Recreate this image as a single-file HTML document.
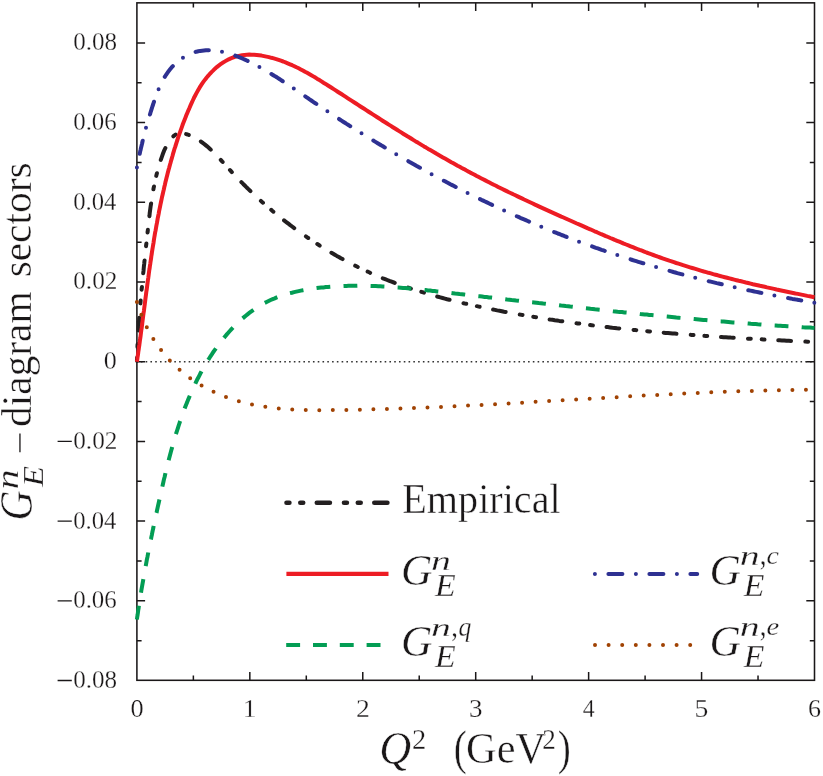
<!DOCTYPE html>
<html><head><meta charset="utf-8"><title>GEn diagram sectors</title>
<style>
html,body{margin:0;padding:0;background:#fff;}
body{width:823px;height:776px;position:relative;overflow:hidden;font-family:"Liberation Serif",serif;color:#1a1718;}
.t{position:absolute;left:0;top:0;font-size:40px;white-space:nowrap;line-height:1;transform-origin:0 0;}
.t{-webkit-text-stroke:0.4px #fff;}
.i{font-style:italic;}
</style></head><body>
<svg width="823" height="776" viewBox="0 0 823 776" style="position:absolute;left:0;top:0">
<line x1="140.86" y1="361.7" x2="814.5" y2="361.7" stroke="#333" stroke-width="1.6" stroke-dasharray="1.6 3.18"/>
<rect x="136.9" y="2.85" width="677.6" height="677.4499999999999" fill="none" stroke="#1a1718" stroke-width="1.55"/>
<path d="M193.37,680.3v-4.7 M193.37,2.85v4.7 M249.83,680.3v-8.2 M249.83,2.85v8.2 M306.30,680.3v-4.7 M306.30,2.85v4.7 M362.77,680.3v-8.2 M362.77,2.85v8.2 M419.23,680.3v-4.7 M419.23,2.85v4.7 M475.70,680.3v-8.2 M475.70,2.85v8.2 M532.17,680.3v-4.7 M532.17,2.85v4.7 M588.63,680.3v-8.2 M588.63,2.85v8.2 M645.10,680.3v-4.7 M645.10,2.85v4.7 M701.57,680.3v-8.2 M701.57,2.85v8.2 M758.03,680.3v-4.7 M758.03,2.85v4.7 M136.9,640.65h4.7 M814.5,640.65h-4.7 M136.9,600.80h8.2 M814.5,600.80h-8.2 M136.9,560.95h4.7 M814.5,560.95h-4.7 M136.9,521.10h8.2 M814.5,521.10h-8.2 M136.9,481.25h4.7 M814.5,481.25h-4.7 M136.9,441.40h8.2 M814.5,441.40h-8.2 M136.9,401.55h4.7 M814.5,401.55h-4.7 M136.9,361.70h8.2 M814.5,361.70h-8.2 M136.9,321.85h4.7 M814.5,321.85h-4.7 M136.9,282.00h8.2 M814.5,282.00h-8.2 M136.9,242.15h4.7 M814.5,242.15h-4.7 M136.9,202.30h8.2 M814.5,202.30h-8.2 M136.9,162.45h4.7 M814.5,162.45h-4.7 M136.9,122.60h8.2 M814.5,122.60h-8.2 M136.9,82.75h4.7 M814.5,82.75h-4.7 M136.9,42.90h8.2 M814.5,42.90h-8.2" stroke="#1a1718" stroke-width="1.5" fill="none"/>
<path d="M136.9,361.7 L137.0,359.4 L137.0,357.1 L137.1,354.8 L137.2,352.5 L137.3,350.2 L137.4,347.9 L137.5,345.5 L137.7,343.2 L137.8,340.9 L137.9,338.6 L138.0,336.3 L138.2,333.9 L138.3,331.6 L138.5,329.3 L138.6,327.0 L138.8,324.6 L138.9,322.3 L139.1,320.0 L139.3,317.6 L139.4,315.3 L139.6,313.0 L139.8,310.6 L140.0,308.3 L140.2,306.0 L140.4,303.6 L140.6,301.3 L140.8,299.0 L141.0,296.6 L141.2,294.3 L141.4,292.0 L141.6,289.6 L141.9,287.3 L142.1,285.0 L142.3,282.6 L142.5,280.3 L142.8,278.0 L143.0,275.6 L143.2,273.3 L143.5,271.0 L143.7,268.7 L143.9,266.3 L144.2,264.0 L144.4,261.7 L144.7,259.4 L144.9,257.0 L145.2,254.7 L145.4,252.4 L145.6,250.1 L145.9,247.8 L146.1,245.5 L146.4,243.2 L146.6,240.8 L146.9,238.5 L147.2,236.2 L147.4,233.9 L147.7,231.6 L147.9,229.3 L148.2,227.0 L148.4,224.8 L148.7,222.5 L148.9,220.2 L149.2,217.9 L149.5,215.6 L149.7,213.3 L150.0,211.0 L150.3,208.7 L150.6,206.5 L151.0,204.2 L151.3,201.9 L151.6,199.6 L152.0,197.3 L152.4,195.0 L152.8,192.8 L153.2,190.5 L153.6,188.2 L154.1,185.9 L154.5,183.6 L155.0,181.3 L155.5,179.0 L156.1,176.7 L156.6,174.4 L157.2,172.1 L157.8,169.8 L158.5,167.4 L159.1,165.1 L159.9,162.8 L160.6,160.5 L161.4,158.1 L162.2,155.8 L163.0,153.5 L163.9,151.2 L164.9,149.0 L165.9,146.9 L167.0,144.8 L168.2,142.7 L169.5,140.8 L170.9,139.0 L172.3,137.3 L173.9,135.8 L175.6,134.5 L177.4,133.6 L179.4,133.2 L181.4,133.1 L183.4,133.4 L185.5,133.9 L187.6,134.5 L189.7,135.3 L191.7,136.2 L193.7,137.1 L195.6,138.2 L197.6,139.3 L199.4,140.5 L201.3,141.8 L203.1,143.2 L205.0,144.6 L206.8,146.1 L208.5,147.6 L210.3,149.2 L212.0,150.9 L213.7,152.5 L215.4,154.3 L217.1,156.0 L218.8,157.8 L220.5,159.6 L222.1,161.4 L223.8,163.2 L225.4,165.0 L227.0,166.8 L228.7,168.6 L230.3,170.4 L231.9,172.2 L233.6,173.9 L235.2,175.7 L236.9,177.4 L238.5,179.1 L240.1,180.8 L241.8,182.5 L243.4,184.2 L245.1,185.8 L246.7,187.5 L248.4,189.1 L250.1,190.7 L251.7,192.3 L253.4,193.9 L255.1,195.5 L256.7,197.0 L258.4,198.6 L260.1,200.1 L261.8,201.7 L263.5,203.2 L265.3,204.7 L267.0,206.2 L268.7,207.7 L270.5,209.2 L272.2,210.7 L274.0,212.2 L275.8,213.7 L277.5,215.1 L279.3,216.6 L281.1,218.0 L282.9,219.4 L284.7,220.9 L286.6,222.3 L288.4,223.7 L290.2,225.1 L292.1,226.5 L293.9,227.9 L295.8,229.3 L297.7,230.6 L299.6,232.0 L301.5,233.3 L303.4,234.7 L305.3,236.0 L307.2,237.3 L309.1,238.6 L311.1,239.9 L313.0,241.2 L314.9,242.5 L316.9,243.8 L318.9,245.0 L320.8,246.3 L322.8,247.5 L324.8,248.7 L326.8,250.0 L328.8,251.2 L330.8,252.4 L332.8,253.5 L334.8,254.7 L336.8,255.9 L338.9,257.0 L340.9,258.2 L343.0,259.3 L345.0,260.4 L347.1,261.5 L349.1,262.6 L351.2,263.7 L353.3,264.7 L355.4,265.8 L357.4,266.8 L359.5,267.8 L361.6,268.9 L363.7,269.9 L365.8,270.8 L368.0,271.8 L370.1,272.8 L372.2,273.7 L374.3,274.7 L376.5,275.6 L378.6,276.5 L380.8,277.4 L382.9,278.3 L385.1,279.1 L387.2,280.0 L389.4,280.9 L391.6,281.7 L393.8,282.5 L395.9,283.3 L398.1,284.1 L400.3,284.9 L402.5,285.7 L404.7,286.5 L406.9,287.2 L409.1,288.0 L411.3,288.7 L413.5,289.4 L415.7,290.1 L417.9,290.8 L420.2,291.5 L422.4,292.2 L424.6,292.9 L426.9,293.6 L429.1,294.2 L431.3,294.9 L433.6,295.5 L435.8,296.1 L438.1,296.8 L440.3,297.4 L442.6,298.0 L444.8,298.6 L447.1,299.2 L449.3,299.7 L451.6,300.3 L453.9,300.9 L456.1,301.4 L458.4,302.0 L460.7,302.5 L462.9,303.1 L465.2,303.6 L467.5,304.1 L469.8,304.6 L472.1,305.1 L474.3,305.6 L476.6,306.1 L478.9,306.6 L481.2,307.1 L483.5,307.6 L485.8,308.1 L488.0,308.5 L490.3,309.0 L492.6,309.5 L494.9,309.9 L497.2,310.4 L499.5,310.8 L501.8,311.2 L504.1,311.7 L506.4,312.1 L508.7,312.5 L511.0,313.0 L513.3,313.4 L515.6,313.8 L517.9,314.2 L520.2,314.6 L522.5,315.0 L524.8,315.4 L527.1,315.8 L529.4,316.2 L531.6,316.6 L533.9,316.9 L536.2,317.3 L538.5,317.7 L540.9,318.1 L543.2,318.4 L545.5,318.8 L547.8,319.1 L550.1,319.5 L552.4,319.8 L554.7,320.2 L557.0,320.5 L559.3,320.9 L561.6,321.2 L563.9,321.5 L566.2,321.8 L568.5,322.2 L570.8,322.5 L573.1,322.8 L575.4,323.1 L577.7,323.4 L580.0,323.7 L582.3,324.0 L584.6,324.3 L587.0,324.6 L589.3,324.9 L591.6,325.2 L593.9,325.5 L596.2,325.8 L598.5,326.1 L600.8,326.3 L603.1,326.6 L605.4,326.9 L607.7,327.1 L610.1,327.4 L612.4,327.7 L614.7,327.9 L617.0,328.2 L619.3,328.4 L621.6,328.7 L623.9,328.9 L626.3,329.2 L628.6,329.4 L630.9,329.6 L633.2,329.9 L635.5,330.1 L637.8,330.3 L640.2,330.6 L642.5,330.8 L644.8,331.0 L647.1,331.2 L649.4,331.4 L651.7,331.7 L654.1,331.9 L656.4,332.1 L658.7,332.3 L661.0,332.5 L663.3,332.7 L665.7,332.9 L668.0,333.1 L670.3,333.3 L672.6,333.5 L674.9,333.6 L677.3,333.8 L679.6,334.0 L681.9,334.2 L684.2,334.4 L686.5,334.6 L688.9,334.7 L691.2,334.9 L693.5,335.1 L695.8,335.3 L698.2,335.4 L700.5,335.6 L702.8,335.8 L705.1,335.9 L707.4,336.1 L709.8,336.2 L712.1,336.4 L714.4,336.6 L716.7,336.7 L719.1,336.9 L721.4,337.0 L723.7,337.2 L726.0,337.3 L728.4,337.4 L730.7,337.6 L733.0,337.7 L735.3,337.9 L737.7,338.0 L740.0,338.2 L742.3,338.3 L744.7,338.4 L747.0,338.6 L749.3,338.7 L751.6,338.8 L754.0,339.0 L756.3,339.1 L758.6,339.2 L760.9,339.3 L763.3,339.5 L765.6,339.6 L767.9,339.7 L770.3,339.8 L772.6,340.0 L774.9,340.1 L777.2,340.2 L779.6,340.3 L781.9,340.4 L784.2,340.5 L786.5,340.7 L788.9,340.8 L791.2,340.9 L793.5,341.0 L795.9,341.1 L798.2,341.2 L800.5,341.3 L802.9,341.5 L805.2,341.6 L807.5,341.7 L809.8,341.8 L812.2,341.9 L814.5,342.0" fill="none" stroke="#231f20" stroke-width="4.0" stroke-linecap="round" stroke-linejoin="round" stroke-dasharray="12.816 14.318 2.803 10.913 2.803 13.767" stroke-dashoffset="26.10"/>
<path d="M136.9,361.7 L137.3,359.2 L137.6,356.8 L138.0,354.4 L138.3,351.9 L138.7,349.5 L139.0,347.1 L139.4,344.6 L139.7,342.2 L140.0,339.8 L140.4,337.4 L140.7,335.0 L141.0,332.6 L141.3,330.2 L141.7,327.8 L142.0,325.4 L142.3,323.0 L142.6,320.6 L142.9,318.2 L143.2,315.8 L143.5,313.4 L143.9,311.0 L144.2,308.6 L144.5,306.3 L144.8,303.9 L145.1,301.5 L145.4,299.1 L145.7,296.8 L146.0,294.4 L146.3,292.0 L146.7,289.7 L147.0,287.3 L147.3,284.9 L147.6,282.6 L147.9,280.2 L148.3,277.8 L148.6,275.5 L148.9,273.1 L149.2,270.7 L149.6,268.4 L149.9,266.0 L150.3,263.6 L150.6,261.3 L151.0,258.9 L151.3,256.5 L151.7,254.2 L152.0,251.8 L152.4,249.4 L152.8,247.0 L153.2,244.7 L153.6,242.3 L153.9,239.9 L154.3,237.5 L154.7,235.1 L155.1,232.7 L155.6,230.4 L156.0,228.0 L156.4,225.6 L156.9,223.2 L157.3,220.8 L157.7,218.4 L158.2,216.0 L158.7,213.6 L159.1,211.2 L159.6,208.8 L160.1,206.3 L160.6,203.9 L161.1,201.5 L161.6,199.1 L162.1,196.7 L162.7,194.3 L163.2,191.9 L163.8,189.5 L164.3,187.1 L164.9,184.7 L165.4,182.3 L166.0,179.9 L166.6,177.6 L167.2,175.2 L167.8,172.8 L168.4,170.4 L169.1,168.0 L169.7,165.7 L170.4,163.3 L171.0,161.0 L171.7,158.6 L172.4,156.2 L173.0,153.9 L173.7,151.6 L174.4,149.2 L175.2,146.9 L175.9,144.6 L176.6,142.3 L177.4,140.0 L178.1,137.7 L178.9,135.4 L179.7,133.1 L180.5,130.8 L181.3,128.6 L182.1,126.3 L182.9,124.0 L183.8,121.8 L184.7,119.6 L185.5,117.4 L186.4,115.1 L187.3,112.9 L188.2,110.8 L189.2,108.6 L190.1,106.4 L191.1,104.2 L192.0,102.1 L193.0,100.0 L194.0,97.8 L195.1,95.7 L196.2,93.6 L197.3,91.6 L198.5,89.5 L199.7,87.4 L201.0,85.4 L202.3,83.4 L203.7,81.4 L205.2,79.4 L206.7,77.5 L208.3,75.7 L209.9,73.8 L211.5,72.1 L213.3,70.4 L215.0,68.7 L216.8,67.1 L218.7,65.6 L220.6,64.2 L222.6,62.8 L224.6,61.6 L226.6,60.4 L228.7,59.3 L230.8,58.4 L233.0,57.5 L235.2,56.7 L237.5,56.1 L239.8,55.6 L242.1,55.2 L244.5,54.9 L246.9,54.7 L249.3,54.6 L251.7,54.7 L254.2,54.8 L256.7,55.0 L259.1,55.3 L261.6,55.6 L264.1,56.1 L266.5,56.6 L269.0,57.1 L271.4,57.8 L273.8,58.4 L276.2,59.1 L278.6,59.9 L280.9,60.7 L283.2,61.5 L285.5,62.4 L287.7,63.3 L290.0,64.3 L292.2,65.2 L294.4,66.2 L296.5,67.3 L298.7,68.3 L300.8,69.4 L302.9,70.5 L305.0,71.7 L307.1,72.8 L309.2,74.0 L311.3,75.2 L313.3,76.4 L315.4,77.6 L317.4,78.9 L319.5,80.1 L321.5,81.4 L323.5,82.7 L325.6,83.9 L327.6,85.2 L329.6,86.5 L331.6,87.8 L333.7,89.1 L335.7,90.4 L337.7,91.7 L339.7,93.0 L341.8,94.3 L343.8,95.6 L345.8,96.9 L347.9,98.3 L349.9,99.6 L351.9,100.9 L354.0,102.2 L356.0,103.5 L358.1,104.9 L360.1,106.2 L362.1,107.5 L364.2,108.8 L366.2,110.1 L368.3,111.5 L370.3,112.8 L372.4,114.1 L374.4,115.4 L376.5,116.7 L378.5,118.0 L380.6,119.4 L382.6,120.7 L384.7,122.0 L386.7,123.3 L388.8,124.6 L390.9,125.9 L392.9,127.2 L395.0,128.5 L397.0,129.8 L399.1,131.1 L401.2,132.4 L403.2,133.7 L405.3,135.0 L407.4,136.3 L409.5,137.5 L411.5,138.8 L413.6,140.1 L415.7,141.4 L417.8,142.6 L419.9,143.9 L421.9,145.1 L424.0,146.4 L426.1,147.6 L428.2,148.9 L430.3,150.1 L432.4,151.3 L434.5,152.5 L436.6,153.8 L438.7,155.0 L440.8,156.2 L442.9,157.4 L445.0,158.6 L447.1,159.8 L449.2,161.0 L451.3,162.2 L453.4,163.3 L455.5,164.5 L457.6,165.7 L459.7,166.8 L461.8,168.0 L464.0,169.1 L466.1,170.3 L468.2,171.4 L470.3,172.6 L472.5,173.7 L474.6,174.8 L476.7,176.0 L478.8,177.1 L481.0,178.2 L483.1,179.3 L485.3,180.4 L487.4,181.5 L489.5,182.6 L491.7,183.7 L493.8,184.8 L496.0,185.8 L498.1,186.9 L500.3,188.0 L502.4,189.0 L504.6,190.1 L506.7,191.1 L508.9,192.2 L511.1,193.2 L513.2,194.3 L515.4,195.3 L517.6,196.4 L519.7,197.4 L521.9,198.4 L524.1,199.5 L526.3,200.5 L528.4,201.5 L530.6,202.5 L532.8,203.5 L535.0,204.6 L537.2,205.6 L539.3,206.6 L541.5,207.6 L543.7,208.6 L545.9,209.6 L548.1,210.6 L550.3,211.6 L552.5,212.6 L554.7,213.6 L556.9,214.6 L559.1,215.6 L561.3,216.6 L563.5,217.5 L565.7,218.5 L567.9,219.5 L570.2,220.5 L572.4,221.5 L574.6,222.5 L576.8,223.5 L579.0,224.4 L581.3,225.4 L583.5,226.4 L585.7,227.4 L587.9,228.4 L590.2,229.3 L592.4,230.3 L594.6,231.3 L596.9,232.2 L599.1,233.2 L601.3,234.2 L603.6,235.1 L605.8,236.1 L608.1,237.0 L610.3,238.0 L612.6,238.9 L614.8,239.9 L617.1,240.8 L619.3,241.7 L621.6,242.6 L623.8,243.6 L626.1,244.5 L628.4,245.4 L630.6,246.3 L632.9,247.2 L635.1,248.1 L637.4,249.0 L639.7,249.9 L642.0,250.7 L644.2,251.6 L646.5,252.5 L648.8,253.3 L651.1,254.2 L653.3,255.0 L655.6,255.8 L657.9,256.7 L660.2,257.5 L662.5,258.3 L664.8,259.1 L667.0,259.9 L669.3,260.7 L671.6,261.4 L673.9,262.2 L676.2,263.0 L678.5,263.7 L680.8,264.4 L683.1,265.2 L685.4,265.9 L687.7,266.6 L690.0,267.3 L692.3,268.0 L694.6,268.7 L697.0,269.4 L699.3,270.1 L701.6,270.8 L703.9,271.5 L706.2,272.1 L708.5,272.8 L710.9,273.4 L713.2,274.1 L715.5,274.7 L717.8,275.3 L720.2,276.0 L722.5,276.6 L724.8,277.2 L727.1,277.8 L729.5,278.4 L731.8,279.0 L734.2,279.6 L736.5,280.2 L738.8,280.8 L741.2,281.3 L743.5,281.9 L745.9,282.5 L748.2,283.0 L750.6,283.6 L752.9,284.2 L755.3,284.7 L757.6,285.2 L760.0,285.8 L762.3,286.3 L764.7,286.8 L767.0,287.4 L769.4,287.9 L771.7,288.4 L774.1,288.9 L776.5,289.5 L778.8,290.0 L781.2,290.5 L783.6,291.0 L785.9,291.5 L788.3,292.0 L790.7,292.5 L793.1,293.0 L795.4,293.5 L797.8,293.9 L800.2,294.4 L802.6,294.9 L805.0,295.4 L807.3,295.9 L809.7,296.3 L812.1,296.8 L814.5,297.3" fill="none" stroke="#ed1c24" stroke-width="4" stroke-linejoin="round"/>
<path d="M136.9,619.5 L137.2,617.2 L137.6,614.9 L137.9,612.7 L138.2,610.4 L138.6,608.1 L138.9,605.8 L139.3,603.6 L139.6,601.3 L140.0,599.1 L140.3,596.8 L140.7,594.6 L141.1,592.3 L141.4,590.1 L141.8,587.8 L142.2,585.6 L142.6,583.4 L143.0,581.1 L143.4,578.9 L143.8,576.7 L144.2,574.5 L144.6,572.2 L145.0,570.0 L145.4,567.8 L145.8,565.6 L146.2,563.4 L146.6,561.2 L147.0,558.9 L147.5,556.7 L147.9,554.5 L148.3,552.3 L148.8,550.1 L149.2,547.9 L149.6,545.7 L150.1,543.5 L150.5,541.3 L151.0,539.1 L151.4,536.9 L151.9,534.7 L152.3,532.5 L152.8,530.2 L153.3,528.0 L153.7,525.8 L154.2,523.6 L154.7,521.4 L155.1,519.2 L155.6,517.0 L156.1,514.8 L156.6,512.6 L157.0,510.4 L157.5,508.2 L158.0,505.9 L158.5,503.7 L159.0,501.5 L159.5,499.3 L160.0,497.1 L160.5,494.8 L161.0,492.6 L161.5,490.4 L162.0,488.1 L162.5,485.9 L163.0,483.7 L163.5,481.5 L164.0,479.2 L164.6,477.0 L165.1,474.8 L165.6,472.5 L166.2,470.3 L166.7,468.1 L167.3,465.9 L167.8,463.6 L168.4,461.4 L168.9,459.2 L169.5,457.0 L170.1,454.7 L170.7,452.5 L171.3,450.3 L171.9,448.1 L172.5,445.9 L173.2,443.7 L173.8,441.5 L174.4,439.3 L175.1,437.1 L175.7,434.9 L176.4,432.7 L177.1,430.5 L177.8,428.3 L178.5,426.2 L179.2,424.0 L179.9,421.8 L180.7,419.7 L181.4,417.5 L182.2,415.3 L182.9,413.2 L183.7,411.1 L184.5,408.9 L185.3,406.8 L186.1,404.7 L187.0,402.6 L187.8,400.5 L188.7,398.4 L189.6,396.3 L190.5,394.2 L191.4,392.1 L192.3,390.0 L193.2,388.0 L194.2,385.9 L195.2,383.9 L196.1,381.9 L197.1,379.8 L198.2,377.8 L199.2,375.8 L200.2,373.8 L201.3,371.8 L202.4,369.8 L203.5,367.9 L204.6,365.9 L205.8,364.0 L206.9,362.0 L208.1,360.1 L209.3,358.2 L210.5,356.3 L211.8,354.4 L213.0,352.5 L214.3,350.6 L215.6,348.8 L216.9,346.9 L218.3,345.1 L219.6,343.3 L221.0,341.5 L222.4,339.7 L223.9,337.9 L225.3,336.2 L226.8,334.4 L228.3,332.7 L229.8,331.0 L231.3,329.4 L232.9,327.7 L234.4,326.1 L236.0,324.5 L237.7,322.9 L239.3,321.4 L241.0,319.8 L242.6,318.4 L244.4,316.9 L246.1,315.5 L247.8,314.1 L249.6,312.7 L251.4,311.4 L253.2,310.1 L255.1,308.8 L256.9,307.6 L258.8,306.4 L260.7,305.2 L262.7,304.1 L264.6,303.0 L266.6,302.0 L268.6,301.0 L270.6,300.0 L272.7,299.1 L274.7,298.3 L276.8,297.4 L278.9,296.6 L281.0,295.9 L283.2,295.2 L285.3,294.5 L287.5,293.8 L289.7,293.2 L291.9,292.7 L294.1,292.1 L296.3,291.6 L298.6,291.1 L300.8,290.6 L303.0,290.2 L305.3,289.8 L307.6,289.4 L309.8,289.1 L312.1,288.7 L314.4,288.4 L316.7,288.1 L318.9,287.8 L321.2,287.6 L323.5,287.4 L325.8,287.1 L328.0,286.9 L330.3,286.7 L332.6,286.6 L334.9,286.4 L337.2,286.3 L339.4,286.2 L341.7,286.1 L344.0,286.0 L346.3,285.9 L348.5,285.8 L350.8,285.8 L353.1,285.8 L355.3,285.8 L357.6,285.7 L359.9,285.8 L362.2,285.8 L364.4,285.8 L366.7,285.8 L369.0,285.9 L371.3,286.0 L373.5,286.0 L375.8,286.1 L378.1,286.2 L380.3,286.3 L382.6,286.5 L384.9,286.6 L387.1,286.7 L389.4,286.9 L391.7,287.0 L393.9,287.2 L396.2,287.4 L398.5,287.5 L400.8,287.7 L403.0,287.9 L405.3,288.1 L407.6,288.3 L409.8,288.5 L412.1,288.7 L414.4,289.0 L416.6,289.2 L418.9,289.4 L421.1,289.6 L423.4,289.9 L425.7,290.1 L427.9,290.4 L430.2,290.6 L432.5,290.9 L434.7,291.1 L437.0,291.4 L439.3,291.6 L441.5,291.9 L443.8,292.2 L446.1,292.4 L448.3,292.7 L450.6,292.9 L452.8,293.2 L455.1,293.5 L457.4,293.7 L459.6,294.0 L461.9,294.2 L464.1,294.5 L466.4,294.8 L468.7,295.0 L470.9,295.3 L473.2,295.6 L475.4,295.8 L477.7,296.1 L480.0,296.3 L482.2,296.6 L484.5,296.9 L486.7,297.1 L489.0,297.4 L491.3,297.6 L493.5,297.9 L495.8,298.2 L498.0,298.4 L500.3,298.7 L502.5,298.9 L504.8,299.2 L507.1,299.5 L509.3,299.7 L511.6,300.0 L513.8,300.2 L516.1,300.5 L518.4,300.7 L520.6,301.0 L522.9,301.3 L525.1,301.5 L527.4,301.8 L529.6,302.0 L531.9,302.3 L534.1,302.5 L536.4,302.8 L538.7,303.1 L540.9,303.3 L543.2,303.6 L545.4,303.8 L547.7,304.1 L549.9,304.3 L552.2,304.6 L554.5,304.8 L556.7,305.1 L559.0,305.3 L561.2,305.6 L563.5,305.8 L565.7,306.1 L568.0,306.3 L570.2,306.6 L572.5,306.8 L574.8,307.1 L577.0,307.3 L579.3,307.6 L581.5,307.8 L583.8,308.1 L586.0,308.3 L588.3,308.5 L590.5,308.8 L592.8,309.0 L595.0,309.3 L597.3,309.5 L599.6,309.8 L601.8,310.0 L604.1,310.2 L606.3,310.5 L608.6,310.7 L610.8,310.9 L613.1,311.2 L615.3,311.4 L617.6,311.7 L619.9,311.9 L622.1,312.1 L624.4,312.4 L626.6,312.6 L628.9,312.8 L631.1,313.0 L633.4,313.3 L635.7,313.5 L637.9,313.7 L640.2,314.0 L642.4,314.2 L644.7,314.4 L646.9,314.6 L649.2,314.9 L651.5,315.1 L653.7,315.3 L656.0,315.5 L658.2,315.7 L660.5,316.0 L662.7,316.2 L665.0,316.4 L667.3,316.6 L669.5,316.8 L671.8,317.0 L674.0,317.2 L676.3,317.5 L678.5,317.7 L680.8,317.9 L683.1,318.1 L685.3,318.3 L687.6,318.5 L689.8,318.7 L692.1,318.9 L694.4,319.1 L696.6,319.3 L698.9,319.5 L701.1,319.7 L703.4,319.9 L705.7,320.1 L707.9,320.3 L710.2,320.5 L712.4,320.7 L714.7,320.9 L717.0,321.1 L719.2,321.3 L721.5,321.4 L723.8,321.6 L726.0,321.8 L728.3,322.0 L730.5,322.2 L732.8,322.4 L735.1,322.5 L737.3,322.7 L739.6,322.9 L741.9,323.1 L744.1,323.2 L746.4,323.4 L748.7,323.6 L750.9,323.8 L753.2,323.9 L755.5,324.1 L757.7,324.3 L760.0,324.4 L762.3,324.6 L764.5,324.7 L766.8,324.9 L769.1,325.1 L771.3,325.2 L773.6,325.4 L775.9,325.5 L778.1,325.7 L780.4,325.8 L782.7,326.0 L785.0,326.1 L787.2,326.3 L789.5,326.4 L791.8,326.6 L794.0,326.7 L796.3,326.8 L798.6,327.0 L800.9,327.1 L803.1,327.3 L805.4,327.4 L807.7,327.5 L810.0,327.6 L812.2,327.8 L814.5,327.9" fill="none" stroke="#039d54" stroke-width="4" stroke-linejoin="round" stroke-dasharray="13.818 13.257"/>
<path d="M136.9,167.4 L137.3,165.4 L137.7,163.3 L138.1,161.3 L138.5,159.3 L138.9,157.3 L139.4,155.3 L139.8,153.3 L140.2,151.3 L140.7,149.4 L141.1,147.4 L141.6,145.4 L142.1,143.5 L142.5,141.5 L143.0,139.5 L143.5,137.6 L144.0,135.6 L144.5,133.7 L145.0,131.7 L145.5,129.8 L146.0,127.8 L146.6,125.9 L147.1,124.0 L147.7,122.0 L148.2,120.1 L148.8,118.1 L149.4,116.2 L150.0,114.3 L150.6,112.3 L151.2,110.4 L151.8,108.4 L152.4,106.5 L153.1,104.5 L153.7,102.6 L154.4,100.6 L155.1,98.7 L155.7,96.7 L156.5,94.8 L157.2,92.8 L158.0,90.9 L158.7,89.0 L159.6,87.1 L160.4,85.2 L161.3,83.3 L162.2,81.4 L163.2,79.6 L164.2,77.8 L165.3,76.0 L166.4,74.3 L167.6,72.6 L168.8,70.9 L170.1,69.3 L171.4,67.7 L172.8,66.2 L174.3,64.7 L175.8,63.3 L177.3,61.9 L178.9,60.6 L180.5,59.4 L182.2,58.2 L183.8,57.1 L185.6,56.1 L187.3,55.2 L189.1,54.3 L190.9,53.6 L192.7,52.9 L194.6,52.3 L196.4,51.7 L198.3,51.3 L200.2,50.9 L202.1,50.7 L204.0,50.5 L205.9,50.3 L207.8,50.3 L209.8,50.3 L211.7,50.3 L213.6,50.5 L215.6,50.7 L217.5,50.9 L219.5,51.2 L221.5,51.6 L223.4,52.0 L225.4,52.5 L227.3,53.0 L229.3,53.6 L231.3,54.2 L233.2,54.9 L235.2,55.6 L237.1,56.3 L239.1,57.1 L241.0,57.9 L242.9,58.7 L244.9,59.6 L246.8,60.5 L248.7,61.4 L250.6,62.4 L252.5,63.3 L254.4,64.3 L256.2,65.3 L258.1,66.3 L259.9,67.3 L261.8,68.3 L263.6,69.4 L265.4,70.4 L267.2,71.5 L269.0,72.5 L270.7,73.6 L272.5,74.7 L274.2,75.8 L276.0,76.8 L277.7,77.9 L279.4,79.0 L281.1,80.1 L282.8,81.3 L284.5,82.4 L286.2,83.5 L287.9,84.6 L289.6,85.7 L291.3,86.9 L293.0,88.0 L294.6,89.1 L296.3,90.3 L298.0,91.4 L299.6,92.5 L301.3,93.7 L302.9,94.8 L304.6,96.0 L306.3,97.1 L307.9,98.2 L309.6,99.4 L311.3,100.5 L312.9,101.6 L314.6,102.8 L316.3,103.9 L317.9,105.0 L319.6,106.2 L321.3,107.3 L323.0,108.4 L324.6,109.5 L326.3,110.6 L328.0,111.7 L329.7,112.9 L331.4,114.0 L333.1,115.1 L334.8,116.2 L336.4,117.3 L338.1,118.4 L339.8,119.5 L341.5,120.6 L343.2,121.7 L344.9,122.8 L346.6,123.9 L348.4,125.0 L350.1,126.1 L351.8,127.2 L353.5,128.2 L355.2,129.3 L356.9,130.4 L358.6,131.5 L360.4,132.6 L362.1,133.6 L363.8,134.7 L365.5,135.8 L367.3,136.8 L369.0,137.9 L370.7,139.0 L372.4,140.0 L374.2,141.1 L375.9,142.1 L377.7,143.2 L379.4,144.2 L381.1,145.3 L382.9,146.3 L384.6,147.4 L386.4,148.4 L388.1,149.4 L389.9,150.5 L391.6,151.5 L393.4,152.5 L395.1,153.6 L396.9,154.6 L398.7,155.6 L400.4,156.6 L402.2,157.7 L403.9,158.7 L405.7,159.7 L407.5,160.7 L409.2,161.7 L411.0,162.7 L412.8,163.7 L414.6,164.7 L416.3,165.7 L418.1,166.7 L419.9,167.7 L421.7,168.7 L423.5,169.7 L425.2,170.7 L427.0,171.6 L428.8,172.6 L430.6,173.6 L432.4,174.6 L434.2,175.5 L436.0,176.5 L437.8,177.5 L439.6,178.4 L441.4,179.4 L443.2,180.4 L445.0,181.3 L446.8,182.3 L448.6,183.2 L450.4,184.2 L452.2,185.1 L454.0,186.0 L455.8,187.0 L457.7,187.9 L459.5,188.8 L461.3,189.8 L463.1,190.7 L464.9,191.6 L466.7,192.5 L468.6,193.4 L470.4,194.3 L472.2,195.3 L474.0,196.2 L475.9,197.1 L477.7,198.0 L479.5,198.9 L481.4,199.8 L483.2,200.6 L485.0,201.5 L486.9,202.4 L488.7,203.3 L490.6,204.2 L492.4,205.0 L494.3,205.9 L496.1,206.8 L497.9,207.6 L499.8,208.5 L501.6,209.4 L503.5,210.2 L505.3,211.1 L507.2,211.9 L509.1,212.8 L510.9,213.6 L512.8,214.4 L514.6,215.3 L516.5,216.1 L518.4,216.9 L520.2,217.8 L522.1,218.6 L524.0,219.4 L525.8,220.2 L527.7,221.0 L529.6,221.8 L531.4,222.6 L533.3,223.4 L535.2,224.2 L537.1,225.0 L538.9,225.8 L540.8,226.6 L542.7,227.4 L544.6,228.1 L546.5,228.9 L548.3,229.7 L550.2,230.5 L552.1,231.2 L554.0,232.0 L555.9,232.7 L557.8,233.5 L559.7,234.2 L561.6,235.0 L563.5,235.7 L565.4,236.5 L567.3,237.2 L569.2,237.9 L571.1,238.7 L573.0,239.4 L574.9,240.1 L576.8,240.8 L578.7,241.5 L580.6,242.2 L582.5,242.9 L584.4,243.6 L586.3,244.3 L588.2,245.0 L590.1,245.7 L592.0,246.4 L593.9,247.1 L595.9,247.8 L597.8,248.4 L599.7,249.1 L601.6,249.8 L603.5,250.4 L605.5,251.1 L607.4,251.7 L609.3,252.4 L611.2,253.0 L613.1,253.7 L615.1,254.3 L617.0,255.0 L618.9,255.6 L620.9,256.2 L622.8,256.9 L624.7,257.5 L626.7,258.1 L628.6,258.7 L630.5,259.3 L632.5,260.0 L634.4,260.6 L636.3,261.2 L638.3,261.8 L640.2,262.4 L642.2,263.0 L644.1,263.5 L646.0,264.1 L648.0,264.7 L649.9,265.3 L651.9,265.9 L653.8,266.4 L655.8,267.0 L657.7,267.6 L659.7,268.1 L661.6,268.7 L663.6,269.3 L665.5,269.8 L667.5,270.4 L669.5,270.9 L671.4,271.4 L673.4,272.0 L675.3,272.5 L677.3,273.1 L679.2,273.6 L681.2,274.1 L683.2,274.6 L685.1,275.2 L687.1,275.7 L689.1,276.2 L691.0,276.7 L693.0,277.2 L695.0,277.7 L696.9,278.2 L698.9,278.7 L700.9,279.2 L702.8,279.7 L704.8,280.2 L706.8,280.7 L708.8,281.2 L710.7,281.6 L712.7,282.1 L714.7,282.6 L716.7,283.1 L718.6,283.5 L720.6,284.0 L722.6,284.5 L724.6,284.9 L726.6,285.4 L728.6,285.8 L730.5,286.3 L732.5,286.7 L734.5,287.2 L736.5,287.6 L738.5,288.1 L740.5,288.5 L742.5,288.9 L744.4,289.4 L746.4,289.8 L748.4,290.2 L750.4,290.6 L752.4,291.0 L754.4,291.5 L756.4,291.9 L758.4,292.3 L760.4,292.7 L762.4,293.1 L764.4,293.5 L766.4,293.9 L768.4,294.3 L770.4,294.7 L772.4,295.1 L774.4,295.5 L776.4,295.9 L778.4,296.2 L780.4,296.6 L782.4,297.0 L784.4,297.4 L786.4,297.8 L788.4,298.1 L790.4,298.5 L792.4,298.9 L794.4,299.2 L796.4,299.6 L798.4,299.9 L800.4,300.3 L802.4,300.6 L804.4,301.0 L806.5,301.3 L808.5,301.7 L810.5,302.0 L812.5,302.4 L814.5,302.7" fill="none" stroke="#2e3192" stroke-width="4" stroke-linecap="round" stroke-linejoin="round" stroke-dasharray="0.000 13.915 13.414 13.254"/>
<path d="M136.9,302.0 L137.5,303.8 L138.0,305.6 L138.6,307.3 L139.2,309.1 L139.9,310.9 L140.5,312.6 L141.2,314.3 L141.8,316.0 L142.5,317.8 L143.3,319.5 L144.0,321.1 L144.8,322.8 L145.5,324.5 L146.3,326.1 L147.1,327.8 L148.0,329.4 L148.8,331.0 L149.7,332.6 L150.6,334.2 L151.5,335.8 L152.4,337.3 L153.3,338.9 L154.3,340.4 L155.3,341.9 L156.3,343.5 L157.3,345.0 L158.3,346.4 L159.4,347.9 L160.5,349.4 L161.6,350.8 L162.7,352.2 L163.8,353.6 L165.0,355.0 L166.2,356.4 L167.4,357.8 L168.6,359.1 L169.8,360.4 L171.1,361.7 L172.4,363.0 L173.7,364.3 L175.0,365.6 L176.3,366.8 L177.7,368.1 L179.0,369.3 L180.4,370.5 L181.8,371.7 L183.2,372.8 L184.7,374.0 L186.1,375.1 L187.6,376.2 L189.0,377.3 L190.5,378.4 L192.0,379.4 L193.6,380.5 L195.1,381.5 L196.6,382.5 L198.2,383.4 L199.7,384.4 L201.3,385.3 L202.9,386.3 L204.5,387.2 L206.1,388.0 L207.7,388.9 L209.3,389.7 L210.9,390.5 L212.5,391.3 L214.2,392.1 L215.8,392.9 L217.4,393.6 L219.1,394.3 L220.7,395.0 L222.4,395.7 L224.1,396.3 L225.8,397.0 L227.4,397.6 L229.1,398.2 L230.8,398.8 L232.5,399.3 L234.2,399.9 L235.9,400.4 L237.6,400.9 L239.3,401.4 L241.0,401.9 L242.8,402.3 L244.5,402.7 L246.2,403.2 L248.0,403.6 L249.7,404.0 L251.4,404.3 L253.2,404.7 L255.0,405.1 L256.7,405.4 L258.5,405.7 L260.2,406.0 L262.0,406.3 L263.8,406.6 L265.5,406.8 L267.3,407.1 L269.1,407.3 L270.9,407.6 L272.7,407.8 L274.5,408.0 L276.3,408.2 L278.0,408.4 L279.8,408.5 L281.6,408.7 L283.5,408.9 L285.3,409.0 L287.1,409.1 L288.9,409.2 L290.7,409.4 L292.5,409.5 L294.3,409.6 L296.1,409.6 L298.0,409.7 L299.8,409.8 L301.6,409.9 L303.4,409.9 L305.2,410.0 L307.1,410.0 L308.9,410.1 L310.7,410.1 L312.6,410.1 L314.4,410.1 L316.2,410.2 L318.1,410.2 L319.9,410.2 L321.7,410.2 L323.6,410.2 L325.4,410.2 L327.2,410.2 L329.1,410.1 L330.9,410.1 L332.7,410.1 L334.6,410.1 L336.4,410.1 L338.3,410.0 L340.1,410.0 L341.9,410.0 L343.8,410.0 L345.6,409.9 L347.4,409.9 L349.3,409.9 L351.1,409.8 L352.9,409.8 L354.8,409.8 L356.6,409.7 L358.4,409.7 L360.3,409.7 L362.1,409.6 L363.9,409.6 L365.8,409.5 L367.6,409.5 L369.4,409.4 L371.2,409.4 L373.1,409.3 L374.9,409.3 L376.7,409.3 L378.6,409.2 L380.4,409.1 L382.2,409.1 L384.0,409.0 L385.9,409.0 L387.7,408.9 L389.5,408.9 L391.3,408.8 L393.2,408.8 L395.0,408.7 L396.8,408.6 L398.6,408.6 L400.5,408.5 L402.3,408.5 L404.1,408.4 L405.9,408.3 L407.8,408.3 L409.6,408.2 L411.4,408.1 L413.2,408.0 L415.1,408.0 L416.9,407.9 L418.7,407.8 L420.5,407.8 L422.4,407.7 L424.2,407.6 L426.0,407.5 L427.8,407.5 L429.6,407.4 L431.5,407.3 L433.3,407.2 L435.1,407.2 L436.9,407.1 L438.7,407.0 L440.6,406.9 L442.4,406.8 L444.2,406.7 L446.0,406.7 L447.8,406.6 L449.6,406.5 L451.5,406.4 L453.3,406.3 L455.1,406.2 L456.9,406.2 L458.7,406.1 L460.5,406.0 L462.4,405.9 L464.2,405.8 L466.0,405.7 L467.8,405.6 L469.6,405.5 L471.4,405.4 L473.3,405.3 L475.1,405.2 L476.9,405.1 L478.7,405.1 L480.5,405.0 L482.3,404.9 L484.2,404.8 L486.0,404.7 L487.8,404.6 L489.6,404.5 L491.4,404.4 L493.2,404.3 L495.0,404.2 L496.9,404.1 L498.7,404.0 L500.5,403.9 L502.3,403.8 L504.1,403.7 L505.9,403.6 L507.7,403.5 L509.5,403.4 L511.4,403.3 L513.2,403.2 L515.0,403.1 L516.8,403.0 L518.6,402.9 L520.4,402.8 L522.2,402.7 L524.0,402.6 L525.9,402.5 L527.7,402.4 L529.5,402.2 L531.3,402.1 L533.1,402.0 L534.9,401.9 L536.7,401.8 L538.5,401.7 L540.3,401.6 L542.2,401.5 L544.0,401.4 L545.8,401.3 L547.6,401.2 L549.4,401.1 L551.2,401.0 L553.0,400.9 L554.8,400.8 L556.6,400.7 L558.4,400.5 L560.3,400.4 L562.1,400.3 L563.9,400.2 L565.7,400.1 L567.5,400.0 L569.3,399.9 L571.1,399.8 L572.9,399.7 L574.7,399.6 L576.5,399.5 L578.4,399.4 L580.2,399.3 L582.0,399.2 L583.8,399.0 L585.6,398.9 L587.4,398.8 L589.2,398.7 L591.0,398.6 L592.8,398.5 L594.6,398.4 L596.5,398.3 L598.3,398.2 L600.1,398.1 L601.9,398.0 L603.7,397.9 L605.5,397.8 L607.3,397.7 L609.1,397.6 L610.9,397.5 L612.7,397.4 L614.6,397.3 L616.4,397.2 L618.2,397.0 L620.0,396.9 L621.8,396.8 L623.6,396.7 L625.4,396.6 L627.2,396.5 L629.0,396.4 L630.9,396.3 L632.7,396.2 L634.5,396.1 L636.3,396.0 L638.1,395.9 L639.9,395.8 L641.7,395.7 L643.5,395.6 L645.3,395.5 L647.2,395.4 L649.0,395.3 L650.8,395.2 L652.6,395.1 L654.4,395.1 L656.2,395.0 L658.0,394.9 L659.8,394.8 L661.6,394.7 L663.5,394.6 L665.3,394.5 L667.1,394.4 L668.9,394.3 L670.7,394.2 L672.5,394.1 L674.3,394.0 L676.1,393.9 L678.0,393.9 L679.8,393.8 L681.6,393.7 L683.4,393.6 L685.2,393.5 L687.0,393.4 L688.8,393.3 L690.7,393.3 L692.5,393.2 L694.3,393.1 L696.1,393.0 L697.9,392.9 L699.7,392.8 L701.5,392.8 L703.4,392.7 L705.2,392.6 L707.0,392.5 L708.8,392.5 L710.6,392.4 L712.4,392.3 L714.2,392.2 L716.1,392.2 L717.9,392.1 L719.7,392.0 L721.5,391.9 L723.3,391.9 L725.2,391.8 L727.0,391.7 L728.8,391.7 L730.6,391.6 L732.4,391.5 L734.2,391.5 L736.1,391.4 L737.9,391.3 L739.7,391.3 L741.5,391.2 L743.3,391.2 L745.2,391.1 L747.0,391.0 L748.8,391.0 L750.6,390.9 L752.4,390.9 L754.3,390.8 L756.1,390.8 L757.9,390.7 L759.7,390.7 L761.5,390.6 L763.4,390.6 L765.2,390.5 L767.0,390.5 L768.8,390.4 L770.7,390.4 L772.5,390.3 L774.3,390.3 L776.1,390.3 L778.0,390.2 L779.8,390.2 L781.6,390.1 L783.4,390.1 L785.3,390.1 L787.1,390.0 L788.9,390.0 L790.7,390.0 L792.6,390.0 L794.4,389.9 L796.2,389.9 L798.0,389.9 L799.9,389.8 L801.7,389.8 L803.5,389.8 L805.4,389.8 L807.2,389.8 L809.0,389.7 L810.8,389.7 L812.7,389.7 L814.5,389.7" fill="none" stroke="#a04203" stroke-width="4.0" stroke-linecap="round" stroke-linejoin="round" stroke-dasharray="0 13.534"/>
<path d="M286.5,502.7H387.7" fill="none" stroke="#231f20" stroke-width="4.6" stroke-linecap="round" stroke-dasharray="2.9 10.9 2.9 13.6 13.1 14.1" />
<path d="M286.4,573.9H388.5" fill="none" stroke="#ed1c24" stroke-width="4.2"/>
<path d="M286.2,644.9H381.2" fill="none" stroke="#039d54" stroke-width="4" stroke-dasharray="13.9 12.9"/>
<path d="M594.9,573.9H697.2" fill="none" stroke="#2e3192" stroke-width="4" stroke-linecap="round" stroke-dasharray="0 13.5 14 13.5"/>
<path d="M595.0,645.0H691" fill="none" stroke="#a04203" stroke-width="4.0" stroke-linecap="round" stroke-dasharray="0 13.6"/>
<path d="M57.6,441.40H71.8 M57.6,521.10H71.8 M57.6,600.80H71.8 M57.6,680.50H71.8 M19.95,433.4V452.3" stroke="#1a1718" stroke-width="1.3" fill="none"/>
</svg>
<div id="tx" style="position:absolute;left:0;top:0;width:823px;height:776px;will-change:transform;">
<div class="t" style="transform:translate(73.17px,29.21px) scale(0.6265,0.6418)">0.08</div>
<div class="t" style="transform:translate(73.18px,108.91px) scale(0.6228,0.6418)">0.06</div>
<div class="t" style="transform:translate(73.19px,188.61px) scale(0.6172,0.6418)">0.04</div>
<div class="t" style="transform:translate(73.16px,268.31px) scale(0.6322,0.6418)">0.02</div>
<div class="t" style="transform:translate(103.83px,347.97px) scale(0.6524,0.6466)">0</div>
<div class="t" style="transform:translate(73.16px,427.71px) scale(0.6322,0.6418)">0.02</div>
<div class="t" style="transform:translate(73.19px,507.41px) scale(0.6172,0.6418)">0.04</div>
<div class="t" style="transform:translate(73.18px,587.11px) scale(0.6228,0.6418)">0.06</div>
<div class="t" style="transform:translate(73.17px,666.81px) scale(0.6265,0.6418)">0.08</div>
<div class="t" style="transform:translate(130.41px,696.56px) scale(0.6585,0.6203)">0</div>
<div class="t" style="transform:translate(242.92px,696.17px) scale(0.6618,0.6395)">1</div>
<div class="t" style="transform:translate(356.08px,696.33px) scale(0.6923,0.6346)">2</div>
<div class="t" style="transform:translate(468.92px,696.40px) scale(0.6750,0.6250)">3</div>
<div class="t" style="transform:translate(582.74px,696.13px) scale(0.5934,0.6445)">4</div>
<div class="t" style="transform:translate(694.47px,696.24px) scale(0.6923,0.6298)">5</div>
<div class="t" style="transform:translate(807.90px,696.40px) scale(0.6506,0.6250)">6</div>
<div class="t i" style="transform:translate(379.15px,725.33px) scale(1.1055,1.1759)">Q</div>
<div class="t" style="transform:translate(411.98px,724.57px) scale(0.7115,0.7269)">2</div>
<div class="t" style="transform:translate(453.64px,725.04px) scale(0.9796,1.1875)">(</div>
<div class="t" style="transform:translate(466.09px,726.18px) scale(1.0589,1.1278)">GeV</div>
<div class="t" style="transform:translate(542.24px,724.67px) scale(0.6795,0.7269)">2</div>
<div class="t" style="transform:translate(557.63px,725.04px) scale(0.9796,1.1875)">)</div>
<div class="t" style="transform:translate(-3.12px,426.95px) rotate(-90deg) scale(1.0341,1.0449)"><span style="word-spacing:0.09em">diagram sectors</span></div>
<div class="t i" style="transform:translate(-5.64px,520.49px) rotate(-90deg) scale(1.0394,1.1515)">G</div>
<div class="t i" style="transform:translate(-7.25px,489.41px) rotate(-90deg) scale(1.0062,0.7637)">n</div>
<div class="t i" style="transform:translate(18.27px,486.83px) rotate(-90deg) scale(0.8517,0.7403)">E</div>
<div class="t" style="transform:translate(402.29px,478.33px) scale(1.0039,1.0449)">Empirical</div>
<div class="t i" style="transform:translate(400.99px,547.35px) scale(1.0866,1.1326)">G</div>
<div class="t i" style="transform:translate(435.07px,570.65px) scale(0.8475,0.7636)">E</div>
<div class="t i" style="transform:translate(430.91px,547.94px) scale(0.9938,0.6593)">n</div>
<div class="t i" style="transform:translate(400.99px,618.45px) scale(1.0866,1.1326)">G</div>
<div class="t i" style="transform:translate(435.07px,641.75px) scale(0.8475,0.7636)">E</div>
<div class="t i" style="transform:translate(430.91px,614.59px) scale(0.9938,0.6429)">n</div>
<div class="t" style="transform:translate(451.20px,609.22px) scale(0.6667,0.8021)">,</div>
<div class="t i" style="transform:translate(458.48px,613.97px) scale(0.6395,0.6642)">q</div>
<div class="t i" style="transform:translate(709.59px,547.45px) scale(1.0866,1.1326)">G</div>
<div class="t i" style="transform:translate(743.67px,570.75px) scale(0.8475,0.7636)">E</div>
<div class="t i" style="transform:translate(739.81px,542.40px) scale(0.9938,0.6758)">n</div>
<div class="t" style="transform:translate(759.80px,535.98px) scale(0.6667,0.8646)">,</div>
<div class="t i" style="transform:translate(766.62px,542.72px) scale(0.6987,0.6543)">c</div>
<div class="t i" style="transform:translate(709.59px,618.55px) scale(1.0866,1.1326)">G</div>
<div class="t i" style="transform:translate(743.67px,641.85px) scale(0.8475,0.7636)">E</div>
<div class="t i" style="transform:translate(739.81px,613.40px) scale(0.9938,0.6758)">n</div>
<div class="t" style="transform:translate(759.80px,606.98px) scale(0.6667,0.8646)">,</div>
<div class="t i" style="transform:translate(766.60px,613.72px) scale(0.7171,0.6543)">e</div>
</div>
</body></html>
